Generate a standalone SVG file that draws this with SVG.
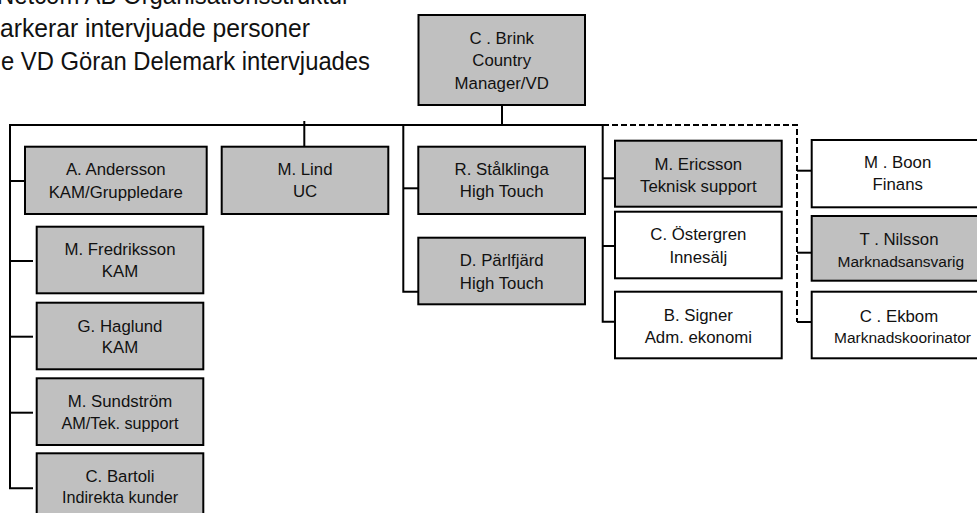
<svg xmlns="http://www.w3.org/2000/svg" width="977" height="513" viewBox="0 0 977 513">
<style>
  .box { stroke: #000; stroke-width: 2; }
  .g { fill: #c0c0c0; }
  .w { fill: #ffffff; }
  .t { font-family: "Liberation Sans", Arial, sans-serif; font-size: 16.8px; fill: #111; text-anchor: middle; }
  .s { font-size: 16.2px; }
  .xs { font-size: 15.5px; }
  .title { font-family: "Liberation Sans", Arial, sans-serif; font-size: 25.5px; fill: #111; }
  .ln { stroke: #000; stroke-width: 2; fill: none; }
  .dash { stroke: #000; stroke-width: 2; fill: none; stroke-dasharray: 6 3; }
</style>
<rect width="977" height="513" fill="#fff"/>
<g id="title">
  <text class="title" x="-3" y="4" textLength="353" lengthAdjust="spacingAndGlyphs">Netcom AB Organisationsstruktur</text>
  <text class="title" x="0" y="36.5" textLength="310" lengthAdjust="spacingAndGlyphs">arkerar intervjuade personer</text>
  <text class="title" x="1" y="70" textLength="369" lengthAdjust="spacingAndGlyphs">e VD Göran Delemark intervjuades</text>
</g>
<g id="connectors">
  <line class="ln" x1="502" y1="88" x2="502" y2="125"/>
  <line class="ln" x1="9" y1="125" x2="603" y2="125"/>
  <polyline class="ln" points="10,124 10,488.3 33,488.3"/>
  <line class="ln" x1="10" y1="181" x2="25" y2="181"/>
  <line class="ln" x1="10" y1="261" x2="33" y2="261"/>
  <line class="ln" x1="10" y1="336.7" x2="33" y2="336.7"/>
  <line class="ln" x1="10" y1="412.7" x2="33" y2="412.7"/>
  <line class="ln" x1="304.3" y1="121" x2="304.3" y2="147"/>
  <polyline class="ln" points="403.3,125 403.3,291.7 418,291.7"/>
  <line class="ln" x1="403.3" y1="188.3" x2="418" y2="188.3"/>
  <polyline class="ln" points="602.7,124 602.7,321.7 615,321.7"/>
  <line class="ln" x1="602.7" y1="178.3" x2="615" y2="178.3"/>
  <line class="ln" x1="602.7" y1="246" x2="615" y2="246"/>
  <polyline class="dash" points="603,125 797,125 797,322"/>
  <line class="ln" x1="797" y1="170.7" x2="811" y2="170.7"/>
  <line class="ln" x1="797" y1="252.7" x2="811" y2="252.7"/>
  <line class="ln" x1="797" y1="322" x2="811" y2="322"/>
</g>
<g id="brink">
  <rect class="box g" x="418.5" y="15" width="166.5" height="90"/>
  <text class="t" x="501.7" y="43.5">C . Brink</text>
  <text class="t" x="501.7" y="66">Country</text>
  <text class="t" x="501.7" y="88.5">Manager/VD</text>
</g>
<g id="andersson">
  <rect class="box g" x="25" y="146.7" width="181.7" height="67.3"/>
  <text class="t" x="115.8" y="175">A. Andersson</text>
  <text class="t" x="115.8" y="197.5">KAM/Gruppledare</text>
</g>
<g id="lind">
  <rect class="box g" x="221.7" y="146.7" width="166.6" height="67.3"/>
  <text class="t" x="305" y="175">M. Lind</text>
  <text class="t" x="305" y="197.3">UC</text>
</g>
<g id="stalklinga">
  <rect class="box g" x="418.3" y="146.7" width="166.7" height="67.3"/>
  <text class="t" x="501.7" y="175">R. Stålklinga</text>
  <text class="t" x="501.7" y="197.3">High Touch</text>
</g>
<g id="parlfjard">
  <rect class="box g" x="418.3" y="237.7" width="166.7" height="66.6"/>
  <text class="t" x="501.7" y="266">D. Pärlfjärd</text>
  <text class="t" x="501.7" y="289">High Touch</text>
</g>
<g id="fredriksson">
  <rect class="box g" x="36.7" y="226.7" width="166.6" height="66.6"/>
  <text class="t" x="120" y="255">M. Fredriksson</text>
  <text class="t" x="120" y="277.3">KAM</text>
</g>
<g id="haglund">
  <rect class="box g" x="36.7" y="302.7" width="166.6" height="66.6"/>
  <text class="t" x="120" y="331.7">G. Haglund</text>
  <text class="t" x="120" y="353">KAM</text>
</g>
<g id="sundstrom">
  <rect class="box g" x="36.7" y="378.3" width="166.6" height="66.7"/>
  <text class="t" x="120" y="407.3">M. Sundström</text>
  <text class="t s" x="120" y="429.3">AM/Tek. support</text>
</g>
<g id="bartoli">
  <rect class="box g" x="36.7" y="453.3" width="166.6" height="66"/>
  <text class="t" x="120" y="481.7">C. Bartoli</text>
  <text class="t s" x="120" y="503.3">Indirekta kunder</text>
</g>
<g id="ericsson">
  <rect class="box g" x="615" y="140.7" width="166.7" height="66"/>
  <text class="t" x="698.3" y="170">M. Ericsson</text>
  <text class="t" x="698.3" y="191.7">Teknisk support</text>
</g>
<g id="ostergren">
  <rect class="box w" x="615" y="211.7" width="166.7" height="66.6"/>
  <text class="t" x="698.3" y="240">C. Östergren</text>
  <text class="t" x="698.3" y="262.7">Innesälj</text>
</g>
<g id="signer">
  <rect class="box w" x="615" y="291.7" width="166.7" height="66.6"/>
  <text class="t" x="698.3" y="320.5">B. Signer</text>
  <text class="t" x="698.3" y="343">Adm. ekonomi</text>
</g>
<g id="boon">
  <rect class="box w" x="811.7" y="140" width="172" height="67.3"/>
  <text class="t" x="897.7" y="168.3">M . Boon</text>
  <text class="t" x="897.7" y="190">Finans</text>
</g>
<g id="nilsson">
  <rect class="box g" x="811.7" y="216" width="172" height="64.7"/>
  <text class="t" x="899" y="245">T . Nilsson</text>
  <text class="t xs" x="900.8" y="266.7">Marknadsansvarig</text>
</g>
<g id="ekbom">
  <rect class="box w" x="811.7" y="291.7" width="172" height="66.6"/>
  <text class="t" x="899" y="321.7">C . Ekbom</text>
  <text class="t xs" x="902.5" y="343.3">Marknadskoorinator</text>
</g>
</svg>
